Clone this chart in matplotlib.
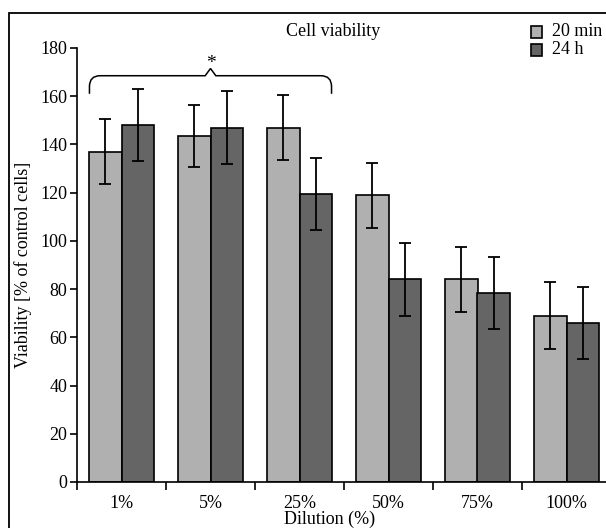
import numpy as np
import matplotlib.pyplot as plt
from matplotlib.patches import Rectangle
from matplotlib.path import Path
from matplotlib.patches import PathPatch

plt.rcParams['font.family'] = 'Liberation Serif'
plt.rcParams['font.size'] = 13

dilutions = ['1%', '5%', '25%', '50%', '75%', '100%']
mean_20min = [137, 143.5, 147, 119, 84, 69]
err_20min = [13.5, 13, 13.5, 13.5, 13.5, 14]
mean_24h = [148, 147, 119.5, 84, 78.5, 66]
err_24h = [15, 15, 15, 15, 15, 15]

light = '#b0b0b0'
dark = '#656565'
w = 0.36

fig = plt.figure(figsize=(6.06, 5.28), dpi=100)
ax = fig.add_axes([77/606, 1 - 482/528, 534/606, 434/528])

x = np.arange(len(dilutions))
ax.bar(x - w/2, mean_20min, w, color=light, edgecolor='black', linewidth=1.2, zorder=2)
ax.bar(x + w/2, mean_24h, w, color=dark, edgecolor='black', linewidth=1.2, zorder=2)
ax.errorbar(x - w/2, mean_20min, yerr=err_20min, fmt='none', ecolor='black',
            elinewidth=1.3, capsize=4, capthick=1.3, zorder=3)
ax.errorbar(x + w/2, mean_24h, yerr=err_24h, fmt='none', ecolor='black',
            elinewidth=1.3, capsize=4, capthick=1.3, zorder=3)

ax.set_xlim(-0.5, len(dilutions) - 0.5)
ax.set_ylim(0, 180)
ax.set_yticks(np.arange(0, 181, 20))
ax.set_xticks(x)
ax.set_xticklabels(dilutions)
ax.set_xticks(np.arange(-0.5, len(dilutions), 1), minor=True)
ax.tick_params(axis='x', which='major', length=0, pad=9)
ax.tick_params(axis='x', which='minor', length=6, width=1.2, direction='out')
ax.tick_params(axis='y', length=5, width=1.2, direction='out', pad=2)
for s in ['top', 'right']:
    ax.spines[s].set_visible(False)
for s in ['left', 'bottom']:
    ax.spines[s].set_linewidth(1.2)

ax.set_ylabel('Viability [% of control cells]', labelpad=6)
ax.set_xlabel('Dilution (%)', labelpad=1)
ax.xaxis.set_label_coords((330 - 77) / 534, -0.066)

fig.text(333/606, 1 - 31/528, 'Cell viability', ha='center', va='center')

# brace over the first three groups
x0, x1 = x[0] - w, x[2] + w
xm = (x0 + x1) / 2
yb, yt, yp = 161, 168.5, 171.5
rx, ry = 0.12, 4.5
verts = [(x0, yb), (x0, yt - ry), (x0, yt), (x0 + rx, yt),
         (xm - 0.06, yt), (xm, yp), (xm + 0.06, yt),
         (x1 - rx, yt), (x1, yt), (x1, yt - ry), (x1, yb)]
codes = [Path.MOVETO, Path.LINETO, Path.CURVE3, Path.CURVE3,
         Path.LINETO, Path.LINETO, Path.LINETO,
         Path.LINETO, Path.CURVE3, Path.CURVE3, Path.LINETO]
ax.add_patch(PathPatch(Path(verts, codes), fill=False, lw=1.1, color='black', clip_on=False))
ax.text(xm, yp - 1.5, '*', ha='center', va='bottom', fontsize=14)

# legend
fig.patches.append(Rectangle((531/606, 1 - 38/528), 11/606, 12/528, transform=fig.transFigure,
                             facecolor=light, edgecolor='black', lw=1.2))
fig.patches.append(Rectangle((531/606, 1 - 56/528), 11/606, 12/528, transform=fig.transFigure,
                             facecolor=dark, edgecolor='black', lw=1.2))
fig.text(552/606, 1 - 32/528, '20 min', ha='left', va='center')
fig.text(552/606, 1 - 50/528, '24 h', ha='left', va='center')

# outer frame
fig.patches.append(Rectangle((9/606, -0.1), 1.2, 1.1 - 13/528, transform=fig.transFigure,
                             fill=False, edgecolor='black', lw=1.3))

fig.savefig('out.png', dpi=100)
